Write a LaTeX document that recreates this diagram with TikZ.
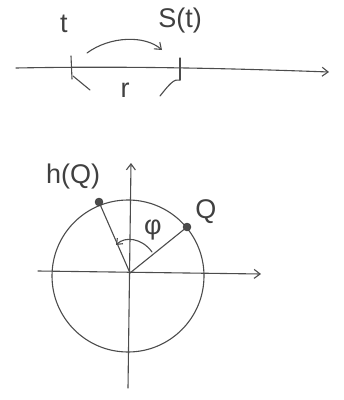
\documentclass[tikz,border=0pt]{standalone}
\usepackage{fontspec}
\newfontfamily\hand{Liberation Sans}
\usetikzlibrary{arrows.meta}
\begin{document}
\begin{tikzpicture}[x=1pt,y=-1pt,
  pen/.style={draw=black!70,line width=1.1pt,line cap=round,line join=round},
  tip/.style={-{Straight Barb[length=6pt,width=9pt]}},
  lbl/.style={font=\hand\fontsize{27}{30}\selectfont,text=black!75,inner sep=1pt},
  dot/.style={circle,fill=black!70,draw=black!80,minimum size=8pt,inner sep=0pt}]
\useasboundingbox (0,0) rectangle (344,400);
% top line
\coordinate (L0) at (16,68);
\coordinate (L1) at (329,72);
\draw[pen,tip] (L0) .. controls (120,66) and (220,68) .. (L1);
\coordinate (T1a) at (71,56); \coordinate (T1b) at (72,79);
\coordinate (T2a) at (180,58); \coordinate (T2b) at (180,80);
\draw[pen] (T1a) -- (T1b);
\draw[pen] (T2a) -- (T2b);
\node[lbl] (t) at (64,24) {t};
\node[lbl] (st) at (180,21) {S(t)};
\coordinate (A0) at (87,53);
\coordinate (A1) at (162,50);
\draw[pen,tip] (A0) .. controls (110,36) and (145,35) .. (A1);
\node[lbl] (r) at (125,90) {r};
\coordinate (B1) at (90,90); \coordinate (B2) at (160,96);
\draw[pen] (B1) -- (73,76);
\draw[pen] (B2) .. controls (168,86) and (174,78) .. (T2b);
% bottom
\coordinate (O) at (130,273);
\coordinate (C) at (128,276);
\draw[pen] (C) circle (76);
\coordinate (XL) at (38,271);
\coordinate (XR) at (261,274);
\draw[pen,tip] (XL) -- (XR);
\coordinate (YB) at (128,388);
\coordinate (YT) at (131,163);
\draw[pen,tip] (YB) -- (YT);
\node[dot] (Q) at (187,227) {};
\node[dot] (hQ) at (99,202) {};
\draw[pen] (O) -- (Q.center);
\draw[pen] (O) -- (hQ.center);
\node[lbl] (qlbl) at (206,212) {Q};
\node[lbl] (hqlbl) at (73,177) {h(Q)};
\node[lbl] (phi) at (153,230) {φ};
\coordinate (P0) at (152,252);
\coordinate (P1) at (116,245);
\draw[pen,-{Straight Barb[length=5pt,width=8pt]}] (P0) .. controls (142,238) and (125,236) .. (P1);
\end{tikzpicture}
\end{document}
